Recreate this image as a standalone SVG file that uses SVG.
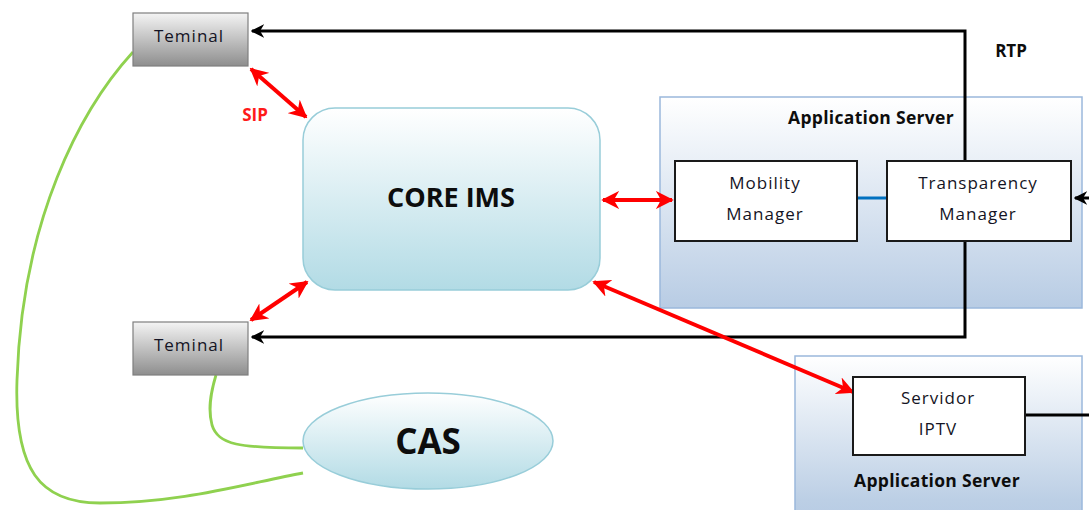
<svg xmlns="http://www.w3.org/2000/svg" width="1089" height="510" viewBox="0 0 1089 510">
  <defs>
    <linearGradient id="gTerm" x1="0" y1="0" x2="0" y2="1">
      <stop offset="0" stop-color="#f4f4f4"/>
      <stop offset="1" stop-color="#8e8e8e"/>
    </linearGradient>
    <linearGradient id="gCore" x1="0" y1="0" x2="0" y2="1">
      <stop offset="0" stop-color="#ffffff"/>
      <stop offset="1" stop-color="#b2dbe5"/>
    </linearGradient>
    <linearGradient id="gAS" x1="0" y1="0" x2="0" y2="1">
      <stop offset="0" stop-color="#ffffff"/>
      <stop offset="1" stop-color="#b8cce4"/>
    </linearGradient>
    <linearGradient id="gAS2" x1="0" y1="0" x2="0" y2="1">
      <stop offset="0" stop-color="#ffffff"/>
      <stop offset="0.9" stop-color="#bccfe5"/>
      <stop offset="1" stop-color="#b8cce4"/>
    </linearGradient>
    <marker id="redHead" viewBox="0 0 10 10" refX="9" refY="5" markerWidth="4.5" markerHeight="4.5" orient="auto-start-reverse" markerUnits="strokeWidth">
      <path d="M0,0 L10,5 L0,10 L3,5 z" fill="#ff0000"/>
    </marker>
    <marker id="blackHead" viewBox="0 0 10 10" refX="9" refY="5" markerWidth="4.5" markerHeight="4.5" orient="auto" markerUnits="strokeWidth">
      <path d="M0,0 L10,5 L0,10 L3,5 z" fill="#000000"/>
    </marker>
  </defs>
  <style>
    .term { fill: url(#gTerm); stroke: #7f7f7f; stroke-width: 1.2; }
    .box { fill: #ffffff; stroke: #1a1a1a; stroke-width: 2; }
    .as { fill: url(#gAS); stroke: #9bb8dc; stroke-width: 1.5; }
    .lbl { font-family: "Open Sans", "Liberation Sans", sans-serif; font-size: 17px; letter-spacing: 1px; fill: #141424; text-anchor: middle; }
    .bold { font-family: "Open Sans", "Liberation Sans", sans-serif; font-weight: bold; fill: #0d0d0d; text-anchor: middle; }
    .red { stroke: #ff0000; stroke-width: 4; fill: none; marker-start: url(#redHead); marker-end: url(#redHead); }
    .blk { stroke: #000000; stroke-width: 3; fill: none; }
    .grn { stroke: #8fd14f; stroke-width: 2.8; fill: none; }
  </style>

  <!-- application server containers -->
  <g id="appServer1">
    <rect x="660" y="97" width="422" height="211" class="as"/>
    <text x="871" y="124" class="bold" font-size="17.5" letter-spacing="0.3">Application Server</text>
  </g>
  <g id="appServer2">
    <rect x="795" y="356" width="287" height="160" fill="url(#gAS2)" stroke="#9bb8dc" stroke-width="1.5"/>
    <text x="937" y="487" class="bold" font-size="17.5" letter-spacing="0.3">Application Server</text>
  </g>

  <!-- connectors -->
  <g id="connectors">
    <!-- CAS links -->
    <path class="grn" d="M133,52 C80,110 22,220 17,380 C14,470 40,503 100,503 C180,503 240,485 303,473"/>
    <path class="grn" d="M216,375 C210,395 208,410 212,425 C218,445 240,448 303,448"/>
    <!-- RTP paths -->
    <path class="blk" d="M965,161 L965,31 L252,31" marker-end="url(#blackHead)"/>
    <path class="blk" d="M965,241 L965,337 L252,337" marker-end="url(#blackHead)"/>
    <path class="blk" d="M1089,198 L1075,198" marker-end="url(#blackHead)"/>
    <path class="blk" d="M1025,415 L1089,415"/>
    <!-- manager link -->
    <path d="M857,198 L887,198" stroke="#0070c0" stroke-width="3"/>
    <!-- SIP signalling -->
    <path class="red" d="M251,69 L306,117"/>
    <path class="red" d="M251,320 L307,282"/>
    <path class="red" d="M603,200 L672,200"/>
    <path class="red" d="M594,282 L853,392"/>
    <text x="255" y="121" font-family="'Open Sans', 'Liberation Sans', sans-serif" font-weight="bold" font-size="17" fill="#ff1a1a" text-anchor="middle">SIP</text>
    <text x="1011" y="57" class="bold" font-size="17">RTP</text>
  </g>

  <g id="terminalTop">
    <rect x="133" y="13" width="115" height="53" class="term"/>
    <text x="189" y="42" class="lbl" letter-spacing="2.5">Teminal</text>
  </g>
  <g id="terminalBottom">
    <rect x="133" y="322" width="115" height="53" class="term"/>
    <text x="189" y="351" class="lbl" letter-spacing="2.5">Teminal</text>
  </g>

  <g id="coreIms">
    <rect x="303" y="108" width="297" height="182" rx="32" ry="32" fill="url(#gCore)" stroke="#98cdd9" stroke-width="1.5"/>
    <text x="451" y="207" class="bold" font-size="27">CORE IMS</text>
  </g>

  <g id="cas">
    <ellipse cx="428" cy="441" rx="125" ry="48" fill="url(#gCore)" stroke="#98cdd9" stroke-width="1.5"/>
    <text x="428" y="454" class="bold" font-size="35">CAS</text>
  </g>

  <g id="mobilityManager">
    <rect x="675" y="161" width="182" height="80" class="box"/>
    <text x="765" y="189" class="lbl">Mobility</text>
    <text x="765" y="220" class="lbl">Manager</text>
  </g>
  <g id="transparencyManager">
    <rect x="887" y="161" width="184" height="80" class="box"/>
    <text x="978" y="189" class="lbl">Transparency</text>
    <text x="978" y="220" class="lbl">Manager</text>
  </g>
  <g id="servidorIptv">
    <rect x="853" y="377" width="172" height="78" class="box"/>
    <text x="938" y="404" class="lbl">Servidor</text>
    <text x="938" y="435" class="lbl">IPTV</text>
  </g>
</svg>
